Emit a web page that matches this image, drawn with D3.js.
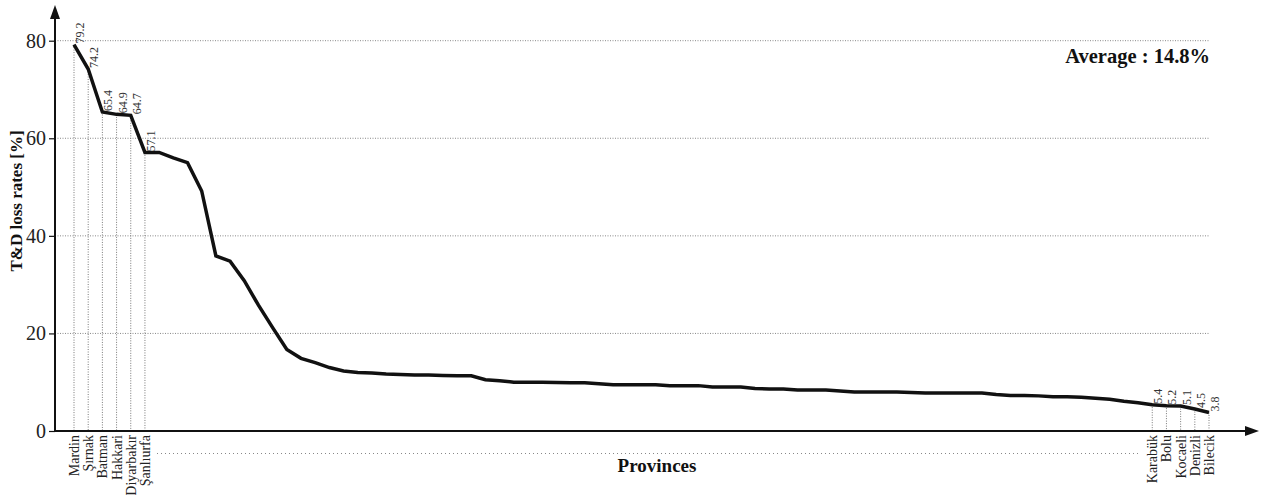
<!DOCTYPE html>
<html>
<head>
<meta charset="utf-8">
<script src="https://cdn.jsdelivr.net/npm/d3@7"></script>
<style>
  html, body { margin: 0; padding: 0; background: #fff; }
  svg { display: block; font-family: "Liberation Serif", "Times New Roman", serif; }
</style>
</head>
<body>
<svg id="chart" width="1261" height="495"></svg>
<script>
// ---- data ----
const lossRates = [
  79.2, 74.2, 65.4, 64.9, 64.7, 57.1, 57.1, 56.0, 55.0, 49.2,
  35.9, 34.8, 30.8, 25.8, 21.2, 16.7, 14.9, 14.0, 13.0, 12.3,
  12.0, 11.9, 11.7, 11.6, 11.5, 11.5, 11.4, 11.3, 11.3, 10.5,
  10.3, 10.0, 10.0, 10.0, 9.95, 9.9, 9.9, 9.7, 9.5, 9.5,
  9.5, 9.5, 9.3, 9.3, 9.3, 9.0, 9.0, 9.0, 8.7, 8.6,
  8.6, 8.4, 8.4, 8.4, 8.2, 8.0, 8.0, 8.0, 8.0, 7.9,
  7.8, 7.8, 7.8, 7.8, 7.8, 7.5, 7.3, 7.3, 7.2, 7.0,
  7.0, 6.9, 6.7, 6.5, 6.1, 5.8, 5.4, 5.2, 5.1, 4.5,
  3.8
];
const labeledNames = ["Mardin", "Şırnak", "Batman", "Hakkari", "Diyarbakır", "Şanlıurfa",
                      "Karabük", "Bolu", "Kocaeli", "Denizli", "Bilecik"];
const labeledIndex = [0, 1, 2, 3, 4, 5, 76, 77, 78, 79, 80];
const labeledText  = ["79.2", "74.2", "65.4", "64.9", "64.7", "57.1",
                      "5.4", "5.2", "5.1", "4.5", "3.8"];
const yTicks = [0, 20, 40, 60, 80];
const averageLabel = "Average : 14.8%";
const yTitle = "T&D loss rates [%]";
const xTitle = "Provinces";

// ---- drawing ----
const svg = d3.select("#chart");
const axisX0 = 55, axisY0 = 431;
const x = d3.scaleLinear().domain([0, lossRates.length - 1]).range([74, 1209]);
const y = d3.scaleLinear().domain([0, 80]).range([axisY0, 40.7]);
const gridRight = 1210;

// gridlines
svg.append("g").selectAll("line").data(yTicks.filter(d => d > 0)).join("line")
  .attr("x1", axisX0).attr("x2", gridRight)
  .attr("y1", d => y(d)).attr("y2", d => y(d))
  .attr("stroke", "#888").attr("stroke-width", 1)
  .attr("stroke-dasharray", "1,1.5");

// vertical dotted drop lines for labeled provinces
svg.append("g").selectAll("line").data(labeledIndex).join("line")
  .attr("x1", d => x(d)).attr("x2", d => x(d))
  .attr("y1", d => y(lossRates[d])).attr("y2", axisY0)
  .attr("stroke", "#777").attr("stroke-width", 1)
  .attr("stroke-dasharray", "1,1.5");

// y axis via d3
const yAxis = d3.axisLeft(y).tickValues(yTicks).tickSize(6).tickPadding(3).tickFormat(d3.format("d"));
const gy = svg.append("g").attr("transform", `translate(${axisX0},0)`).call(yAxis);
gy.select(".domain").remove();
gy.selectAll(".tick line").attr("stroke", "#111").attr("stroke-width", 1.2);
gy.selectAll(".tick text")
  .attr("font-family", "Liberation Serif, serif")
  .attr("font-size", 20).attr("fill", "#222");

// axes lines with arrows
svg.append("line").attr("x1", axisX0).attr("x2", axisX0)
  .attr("y1", axisY0 + 1).attr("y2", 16)
  .attr("stroke", "#111").attr("stroke-width", 2);
svg.append("path")
  .attr("d", `M${axisX0},5 L${axisX0 - 5},19 L${axisX0 + 5},19 Z`)
  .attr("fill", "#111");
svg.append("line").attr("x1", axisX0 - 1).attr("x2", 1248)
  .attr("y1", axisY0).attr("y2", axisY0)
  .attr("stroke", "#111").attr("stroke-width", 2);
svg.append("path")
  .attr("d", `M1259,${axisY0} L1245,${axisY0 - 5} L1245,${axisY0 + 5} Z`)
  .attr("fill", "#111");

// data line
const line = d3.line().x((d, i) => x(i)).y(d => y(d));
svg.append("path").datum(lossRates)
  .attr("d", line)
  .attr("fill", "none").attr("stroke", "#111")
  .attr("stroke-width", 3.5).attr("stroke-linejoin", "miter");

// value labels (rotated)
svg.append("g").selectAll("text").data(labeledIndex).join("text")
  .attr("transform", d => `translate(${x(d) + 10},${y(lossRates[d]) - 1}) rotate(-90)`)
  .attr("text-anchor", "start")
  .attr("font-size", 12).attr("fill", "#333")
  .text((d, i) => labeledText[i]);

// province labels (rotated)
svg.append("g").selectAll("text").data(labeledIndex).join("text")
  .attr("transform", d => `translate(${x(d) + 5},${axisY0 + 4}) rotate(-90)`)
  .attr("text-anchor", "end")
  .attr("font-size", 14).attr("fill", "#222")
  .text((d, i) => labeledNames[i]);

// dotted line under axis
svg.append("line").attr("x1", 157).attr("x2", 1140)
  .attr("y1", 453.5).attr("y2", 453.5)
  .attr("stroke", "#888").attr("stroke-width", 1)
  .attr("stroke-dasharray", "1,3");

// titles
svg.append("text").attr("x", 657).attr("y", 472)
  .attr("text-anchor", "middle").attr("font-size", 19).attr("font-weight", "bold")
  .attr("fill", "#111").text(xTitle);
svg.append("text")
  .attr("transform", `translate(22,201) rotate(-90)`)
  .attr("text-anchor", "middle").attr("font-size", 17).attr("font-weight", "bold")
  .attr("fill", "#111").text(yTitle);
svg.append("text").attr("x", 1210).attr("y", 63)
  .attr("text-anchor", "end").attr("font-size", 20.5).attr("font-weight", "bold")
  .attr("fill", "#111").text(averageLabel);
</script>
</body>
</html>
